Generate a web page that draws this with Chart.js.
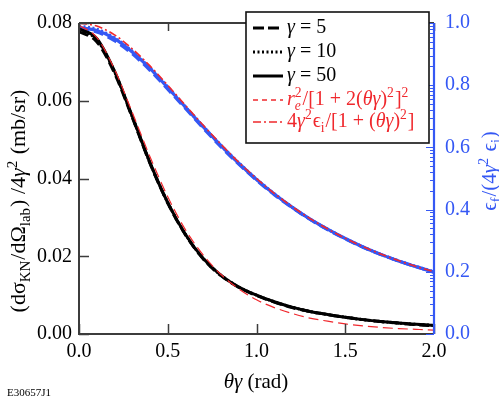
<!DOCTYPE html>
<html>
<head>
<meta charset="utf-8">
<script src="https://cdn.jsdelivr.net/npm/chart.js@4/dist/chart.umd.min.js"></script>
<style>
html,body{margin:0;padding:0;background:#fff;}
#wrap{width:499px;height:398px;position:relative;}
</style>
</head>
<body>
<div id="wrap"><canvas id="c" width="499" height="398"></canvas></div>
<script>
// ---- data ----
const thetaGamma = [0,0.1,0.2,0.3,0.4,0.5,0.6,0.7,0.8,0.9,1.0,1.1,1.2,1.3,1.4,1.5,1.6,1.7,1.8,1.9,2.0];
// left axis: (dσ_KN/dΩ_lab)/4γ² (mb/sr)
const crossG5  = [0.0778,0.0752,0.0671,0.0557,0.0439,0.0337,0.0255,0.0193,0.0150,0.0120,0.0099,0.0082,0.0068,0.0058,0.0050,0.0043,0.0037,0.0032,0.0028,0.0024,0.0021];
const crossG10 = [0.0782,0.0757,0.0675,0.0559,0.0440,0.0338,0.0256,0.0194,0.0151,0.0121,0.0100,0.0083,0.0069,0.0058,0.0050,0.0043,0.0037,0.0032,0.0028,0.0025,0.0022];
const crossG50 = [0.0785,0.0760,0.0676,0.0560,0.0441,0.0338,0.0256,0.0194,0.0151,0.0121,0.0100,0.0083,0.0069,0.0058,0.0050,0.0043,0.0037,0.0032,0.0028,0.0025,0.0022];
const crossThomson = [0.0794,0.0763,0.0681,0.0570,0.0456,0.0353,0.0268,0.0203,0.0153,0.0116,0.0088,0.0068,0.0053,0.0041,0.0033,0.0026,0.0021,0.0017,0.0014,0.0012,0.0010];
// right axis: ε_f/(4γ² ε_i)
const energyG5  = [0.980,0.971,0.943,0.901,0.848,0.787,0.725,0.662,0.602,0.546,0.495,0.448,0.407,0.369,0.336,0.306,0.279,0.256,0.235,0.216,0.199];
const energyG10 = [0.990,0.980,0.952,0.909,0.855,0.794,0.730,0.667,0.606,0.550,0.498,0.451,0.408,0.370,0.337,0.307,0.280,0.256,0.235,0.217,0.200];
const energyG50 = [0.985,0.976,0.950,0.907,0.854,0.792,0.729,0.666,0.606,0.549,0.497,0.450,0.408,0.370,0.337,0.307,0.280,0.256,0.235,0.216,0.199];
const energyThomson = [1.000,0.990,0.962,0.917,0.862,0.800,0.735,0.671,0.610,0.552,0.500,0.452,0.410,0.372,0.338,0.308,0.281,0.257,0.236,0.217,0.200];
const xTicks = [0,0.5,1.0,1.5,2.0];
const yLeftTicks = [0,0.02,0.04,0.06,0.08];
const yRightTicks = [0,0.2,0.4,0.6,0.8,1.0];
const legendLabels = ['γ = 5','γ = 10','γ = 50','r_e²/[1 + 2(θγ)²]²','4γ²ϵ_i/[1 + (θγ)²]'];
const footnote = 'E30657J1';

const BLUE = '#3558f4';
const RED = '#f0282d';
const FAM = "'Liberation Serif', serif";
const pts = arr => arr.map((v,i)=>({x:thetaGamma[i], y:v}));

function ds(label, arr, axis, color, dash, width, order){
  return {label, data: pts(arr), yAxisID: axis, borderColor: color, borderDash: dash,
    borderWidth: width, pointRadius: 0, fill: false, cubicInterpolationMode: 'monotone', order};
}

const datasets = [
  ds('γ = 5 (energy)', energyG5, 'y2', BLUE, [10,5], 3.2, 9),
  ds('γ = 10 (energy)', energyG10, 'y2', BLUE, [2,2.5], 3.2, 8),
  ds('γ = 50 (energy)', energyG50, 'y2', BLUE, [], 3.2, 7),
  ds(legendLabels[0], crossG5, 'y', '#000', [10,5], 3, 6),
  ds(legendLabels[1], crossG10, 'y', '#000', [2,2.5], 3, 5),
  ds(legendLabels[2], crossG50, 'y', '#000', [], 3, 4),
  ds(legendLabels[3], crossThomson, 'y', RED, [10,5], 1.2, 2),
  ds(legendLabels[4], energyThomson, 'y2', RED, [8,3,2,3], 1.6, 1)
];

function font(size, italic){ return (italic?'italic ':'') + size + 'px ' + FAM; }
// rich text: segments {t, i} or {sup, sub}
function richRun(ctx, segs, x, y, size, draw){
  let cx = x;
  for (const s of segs){
    if (s.sup !== undefined || s.sub !== undefined){
      const ss = size*0.68; let w = 0;
      if (s.sup){ ctx.font = font(ss, s.supi); if(draw) ctx.fillText(s.sup, cx, y - size*0.38); w = Math.max(w, ctx.measureText(s.sup).width); }
      if (s.sub){ ctx.font = font(ss, s.subi); if(draw) ctx.fillText(s.sub, cx, y + size*0.24); w = Math.max(w, ctx.measureText(s.sub).width); }
      cx += w + 1;
    } else {
      ctx.font = font(size, s.i); if(draw) ctx.fillText(s.t, cx, y); cx += ctx.measureText(s.t).width;
    }
  }
  return cx - x;
}
function richCentered(ctx, segs, cx, baseline, size, rotate){
  ctx.save();
  ctx.textAlign = 'left'; ctx.textBaseline = 'alphabetic';
  ctx.translate(cx, baseline);
  if (rotate) ctx.rotate(-Math.PI/2);
  const w = richRun(ctx, segs, 0, 0, size, false);
  richRun(ctx, segs, -w/2, 0, size, true);
  ctx.restore();
}

const legendSegs = [
  [{t:'γ',i:1},{t:' = 5'}],
  [{t:'γ',i:1},{t:' = 10'}],
  [{t:'γ',i:1},{t:' = 50'}],
  [{t:'r',i:1},{sup:'2',sub:'e',subi:1},{t:'/[1 + 2('},{t:'θγ',i:1},{t:')'},{sup:'2'},{t:']'},{sup:'2'}],
  [{t:'4'},{t:'γ',i:1},{sup:'2'},{t:'ϵ'},{sub:'i'},{t:'/[1 + ('},{t:'θγ',i:1},{t:')'},{sup:'2'},{t:']'}]
];
const legendStyle = [
  {c:'#000', d:[11,4], w:3}, {c:'#000', d:[2,2.5], w:3}, {c:'#000', d:[], w:3},
  {c:RED, d:[5,4], w:1.3}, {c:RED, d:[8,3,2,3], w:1.6}
];

const decor = {
  id: 'decor',
  afterDraw(chart){
    const ctx = chart.ctx;
    const a = chart.chartArea;
    const xs = chart.scales.x, yl = chart.scales.y, yr = chart.scales.y2;
    ctx.save();
    ctx.setLineDash([]);
    ctx.strokeStyle = '#3c3c3c'; ctx.lineWidth = 2;
    ctx.beginPath();
    ctx.moveTo(a.left, a.top); ctx.lineTo(a.left, a.bottom); ctx.lineTo(a.right, a.bottom);
    ctx.moveTo(a.left, a.top); ctx.lineTo(a.right, a.top);
    ctx.stroke();
    ctx.lineWidth = 1.5;
    ctx.beginPath();
    for (const v of xTicks){
      const px = Math.round(xs.getPixelForValue(v)) + 0.5;
      ctx.moveTo(px, a.bottom); ctx.lineTo(px, a.bottom - 10);
      ctx.moveTo(px, a.top); ctx.lineTo(px, a.top + 8);
    }
    for (const v of yLeftTicks){
      const py = Math.round(yl.getPixelForValue(v)) + 0.5;
      ctx.moveTo(a.left, py); ctx.lineTo(a.left + 10, py);
    }
    ctx.stroke();
    ctx.strokeStyle = BLUE; ctx.lineWidth = 2.2;
    ctx.beginPath(); ctx.moveTo(a.right, a.top); ctx.lineTo(a.right, a.bottom); ctx.stroke();
    ctx.lineWidth = 1.2;
    ctx.beginPath();
    for (let k = 0; k < yRightTicks.length; k++){
      const v = yRightTicks[k];
      const py = Math.round(yr.getPixelForValue(v)) + 0.5;
      ctx.moveTo(a.right, py); ctx.lineTo(a.right - 8, py);
      if (k < yRightTicks.length - 1){
        for (let m = 2; m <= 9; m++){
          const mv = v + 0.2*Math.log10(m);
          const my = Math.round(yr.getPixelForValue(mv)) + 0.5;
          ctx.moveTo(a.right, my); ctx.lineTo(a.right - 4, my);
        }
      }
    }
    ctx.stroke();
    // legend box
    const L = 246, T = 12, R = 429, B = 143;
    ctx.fillStyle = '#fff'; ctx.fillRect(L, T, R-L, B-T);
    ctx.strokeStyle = '#111'; ctx.lineWidth = 1.6;
    ctx.strokeRect(L, T, R-L, B-T);
    const baselines = [33, 57, 81, 105, 127];
    for (let r = 0; r < 5; r++){
      const st = legendStyle[r];
      const yl0 = baselines[r] - 5;
      ctx.strokeStyle = st.c; ctx.lineWidth = st.w; ctx.setLineDash(st.d);
      ctx.beginPath(); ctx.moveTo(253, yl0); ctx.lineTo(283, yl0); ctx.stroke();
      ctx.setLineDash([]);
      ctx.fillStyle = r < 3 ? '#000' : RED;
      ctx.textAlign = 'left'; ctx.textBaseline = 'alphabetic';
      richRun(ctx, legendSegs[r], 287, baselines[r], 20, true);
    }
    ctx.fillStyle = '#000';
    richCentered(ctx, [{t:'θγ',i:1},{t:' (rad)'}], 256, 388, 21, false);
    richCentered(ctx, [{t:'(dσ'},{sub:'KN'},{t:'/dΩ'},{sub:'lab'},{t:') /4'},{t:'γ',i:1},{sup:'2'},{t:' (mb/sr)'}], 25, 201, 22, true);
    ctx.fillStyle = BLUE;
    richCentered(ctx, [{t:'ϵ'},{sub:'f'},{t:'/(4'},{t:'γ',i:1},{sup:'2'},{t:' ϵ'},{sub:'i'},{t:')'}], 496, 171, 21, true);
    ctx.fillStyle = '#000'; ctx.font = '11px ' + FAM; ctx.textAlign = 'left';
    ctx.fillText(footnote, 7, 396);
    ctx.restore();
  }
};

const tickFont = {family: FAM, size: 20};
new Chart(document.getElementById('c'), {
  type: 'line',
  data: { datasets },
  options: {
    responsive: false, animation: false, devicePixelRatio: 1,
    font: {family: FAM},
    layout: { padding: { top: 7, left: 0, right: 0, bottom: 0 } },
    plugins: { legend: {display: false}, tooltip: {enabled: false}, title: {display: false} },
    scales: {
      x: { type: 'linear', min: 0, max: 2,
        ticks: { stepSize: 0.5, callback: v => Number(v).toFixed(1), font: tickFont, color: '#000', padding: 6, maxRotation: 0, autoSkip: false },
        grid: { display: false, drawTicks: false }, border: { display: false },
        afterFit: s => { s.height = 64; } },
      y: { type: 'linear', position: 'left', min: 0, max: 0.08,
        ticks: { stepSize: 0.02, callback: v => Number(v).toFixed(2), font: tickFont, color: '#000', padding: 7 },
        grid: { display: false, drawTicks: false }, border: { display: false },
        afterFit: s => { s.width = 79; } },
      y2: { type: 'linear', position: 'right', min: 0, max: 1,
        ticks: { stepSize: 0.2, callback: v => Number(v).toFixed(1), font: tickFont, color: BLUE, padding: 11 },
        grid: { display: false, drawTicks: false }, border: { display: false },
        afterFit: s => { s.width = 65; } }
    }
  },
  plugins: [decor]
});
</script>
</body>
</html>
